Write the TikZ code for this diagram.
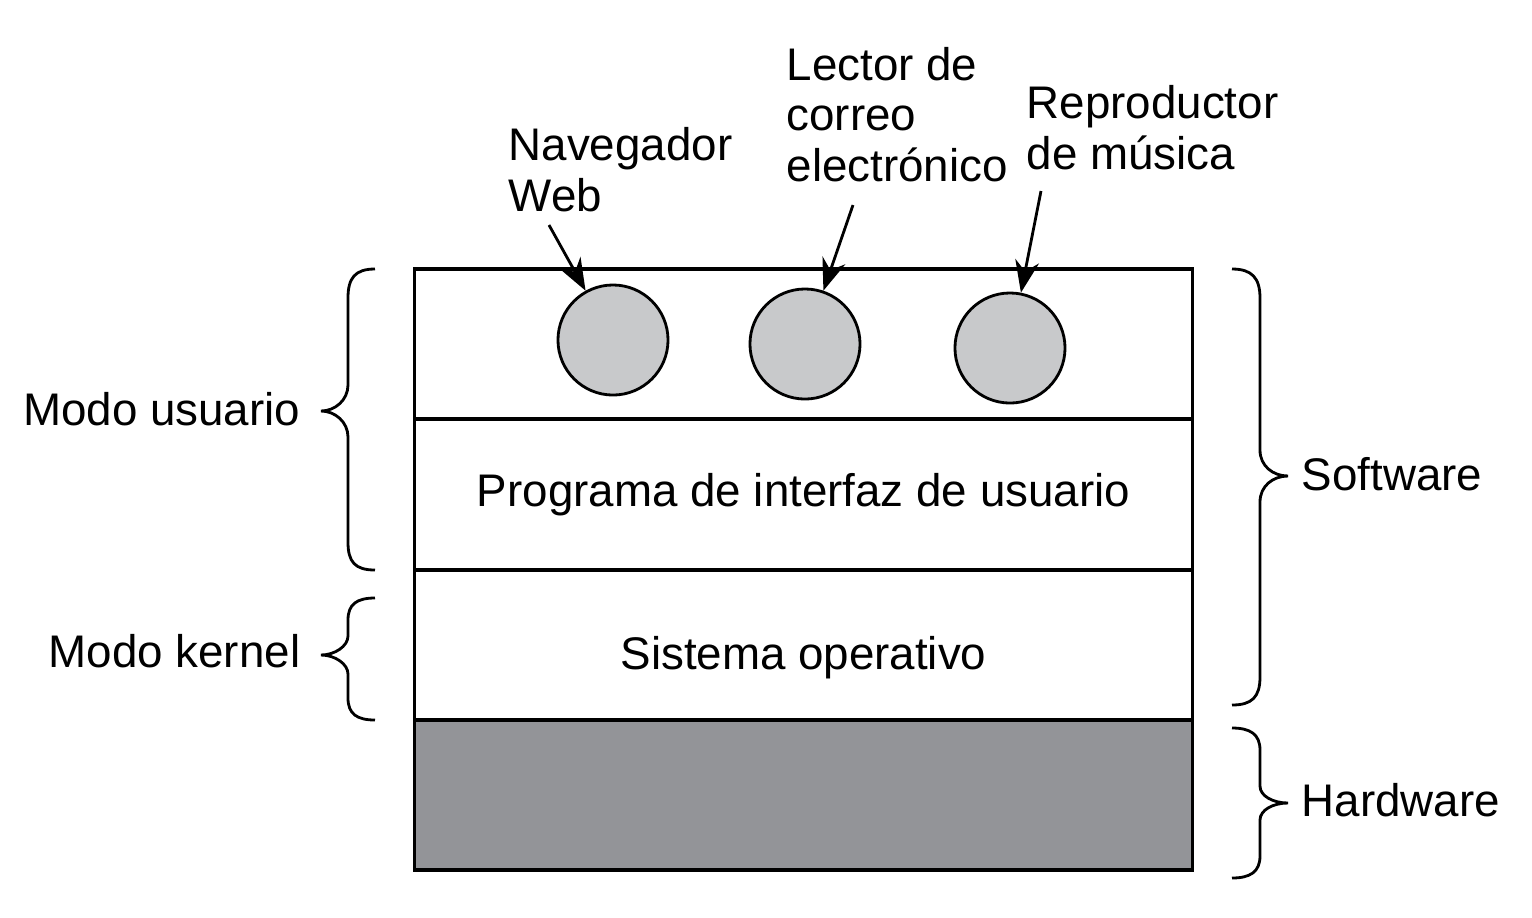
\documentclass[tikz,border=0pt]{standalone}
\usepackage{fontspec}
\setmainfont{Liberation Sans}
\usetikzlibrary{arrows.meta,positioning}
\definecolor{appgray}{HTML}{C8C9CB}
\definecolor{hwgray}{HTML}{939498}

\begin{document}
\begin{tikzpicture}[x=0.01cm, y=-0.01cm,
	every node/.style={font=\fontsize{13}{14.3}\selectfont},
	layer/.style={draw, line width=0.9pt, minimum width=7.77cm, minimum height=1.5cm,
		inner sep=0pt},
	app/.style={circle, draw, line width=0.8pt, fill=appgray, minimum size=1.1cm,
		inner sep=0pt},
	lbl/.style={align=left, inner sep=0pt},
	arr/.style={-{Stealth[length=3.2mm, width=2.4mm]}, line width=0.8pt},
	brc/.style={line width=0.8pt}
]
	\useasboundingbox (0,0) rectangle (1532,917);
	% layers
	\node[layer] (user) at (803.5,344) {};
	\node[layer] (ui) at (803.5,494.5) {Programa de interfaz de usuario};
	\node[layer, text height=0.58cm] (os) at (803.5,645) {Sistema operativo};
	\node[layer, fill=hwgray] (hw) at (803.5,795) {};
	% applications
	\node[app] (web) at (613,340) {};
	\node[app] (mail) at (805,344) {};
	\node[app] (music) at (1010,348) {};
	% labels of the applications (base = last line)
	\node[lbl, anchor=base west] (webtxt) at (508,211) {Navegador\\Web};
	\node[lbl, anchor=base west] (mailtxt) at (786,181) {Lector de\\correo\\electrónico};
	\node[lbl, anchor=base west] (musictxt) at (1026,169) {Reproductor\\de música};
	\coordinate (webfrom) at (549,225);
	\coordinate (mailfrom) at (853,205);
	\coordinate (musicfrom) at (1041,191);
	\draw[arr] (webfrom) -- (web);
	\draw[arr] (mailfrom) -- (mail);
	\draw[arr] (musicfrom) -- (music);
	% braces
	\draw[brc] (375,269) .. controls (355,269) and (348,278) .. (348,298) -- (348,385)
		.. controls (348,400) and (335,411) .. (321,411)
		.. controls (335,411) and (348,422) .. (348,437) -- (348,542)
		.. controls (348,562) and (355,570) .. (375,570);
	\draw[brc] (375,598) .. controls (357,598) and (348,604) .. (348,620) -- (348,636)
		.. controls (348,646) and (335,655) .. (321,655)
		.. controls (335,655) and (348,664) .. (348,674) -- (348,698)
		.. controls (348,714) and (357,720) .. (375,720);
	\draw[brc] (1232,269) .. controls (1252,269) and (1260,278) .. (1260,298) -- (1260,450)
		.. controls (1260,466) and (1273,476) .. (1288,476)
		.. controls (1273,476) and (1260,486) .. (1260,502) -- (1260,677)
		.. controls (1260,697) and (1252,705) .. (1232,705);
	\draw[brc] (1232,728) .. controls (1250,728) and (1260,734) .. (1260,750) -- (1260,786)
		.. controls (1260,796) and (1273,803) .. (1288,803)
		.. controls (1273,803) and (1260,810) .. (1260,820) -- (1260,856)
		.. controls (1260,872) and (1250,878) .. (1232,878);
	% mode labels
	\node[lbl, anchor=base east] (usrmode) at (301,425) {Modo usuario};
	\node[lbl, anchor=base east] (kermode) at (301,667) {Modo kernel};
	\node[lbl, anchor=base west] (sw) at (1301,490) {Software};
	\node[lbl, anchor=base west] (hwtxt) at (1301,816) {Hardware};
\end{tikzpicture}
\end{document}
